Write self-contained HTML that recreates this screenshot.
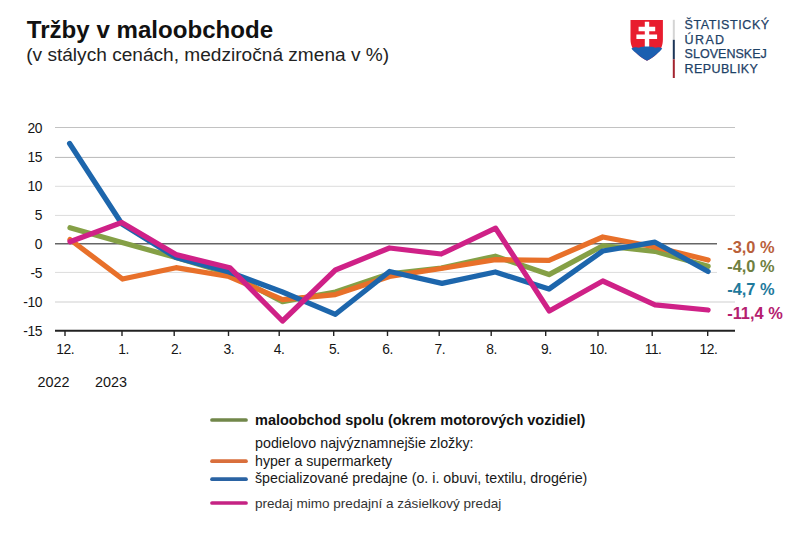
<!DOCTYPE html>
<html><head><meta charset="utf-8">
<style>
html,body{margin:0;padding:0;background:#fff;}
body{width:800px;height:553px;position:relative;overflow:hidden;font-family:"Liberation Sans",sans-serif;color:#1a1a1a;}
.t{position:absolute;white-space:nowrap;line-height:1;}
#title{left:26.8px;top:17.6px;font-size:24.1px;font-weight:bold;color:#111;}
#sub{left:26.2px;top:45px;font-size:19.1px;color:#222;}
.yl{font-size:13.8px;letter-spacing:-0.4px;width:30px;text-align:right;left:12px;color:#151515;}
.xl{font-size:13.8px;letter-spacing:-0.45px;color:#151515;top:343px;}
.vl{font-size:16.4px;font-weight:bold;left:727.2px;}
.lg{font-size:14.2px;left:255px;color:#181818;}
.logo{font-size:12.5px;color:#1d4166;left:684.6px;letter-spacing:0.9px;-webkit-text-stroke:0.25px #1d4166;}
svg{position:absolute;left:0;top:0;}
</style></head><body>
<svg width="800" height="553" viewBox="0 0 800 553">
<g stroke="#c9c9c9" stroke-width="1" fill="none">
<line x1="55" y1="127.5" x2="735" y2="127.5" stroke="#c2c2c2"/>
<line x1="55" y1="157.4" x2="735" y2="157.4" stroke="#b8b8b8"/>
<line x1="55" y1="186.3" x2="735" y2="186.3" stroke="#dcdcdc"/>
<line x1="55" y1="215.4" x2="735" y2="215.4" stroke="#dcdcdc"/>
<line x1="55" y1="272.4" x2="717" y2="272.4" stroke="#dcdcdc"/>
<line x1="55" y1="302" x2="735" y2="302" stroke="#cfcfcf"/>
</g>
<line x1="55" y1="243.8" x2="717" y2="243.8" stroke="#666" stroke-width="1.6"/>
<g fill="none" stroke-width="5.25" stroke-linecap="round" stroke-linejoin="round">
<polyline stroke="#85a046" points="70,227.7 122,242.5 176,257.5 229,273.6 282.5,301.7 335.4,292 389.5,273.8 441.2,268 495.3,256.2 549,274.6 602.8,245.7 655,251.3 708.1,266.2"/>
<polyline stroke="#e8702a" points="70,239.5 122.5,279 176,267.7 229,276.5 282.5,299.6 335.4,294.6 389.5,276.4 441.2,268.5 495.3,259.7 549,260.3 602.8,237 655,247 708.1,260"/>
<polyline stroke="#1d66ac" points="69.6,143.5 122,224 176,257.5 229,272 282.5,292 335.4,314.3 389.5,271.5 442,283.4 495.3,272 549,289 602.8,251 655,242.2 708.1,271.5"/>
<polyline stroke="#cf2187" points="70,241.7 121.7,222.5 176,254.6 229.8,267.7 282.5,321 335.4,270 389.5,248 441.2,254 495.6,228.2 549.3,311 602.8,281 655,304.8 708.1,310"/>
</g>
<g stroke="#222" stroke-width="1.4">
<line x1="55" y1="330.8" x2="735" y2="330.8" stroke-width="2"/>
<line x1="65" y1="331" x2="65" y2="336"/><line x1="122" y1="331" x2="122" y2="336"/><line x1="174.2" y1="331" x2="174.2" y2="336"/><line x1="228.5" y1="331" x2="228.5" y2="336"/><line x1="279.2" y1="331" x2="279.2" y2="336"/><line x1="333.7" y1="331" x2="333.7" y2="336"/><line x1="387.5" y1="331" x2="387.5" y2="336"/><line x1="439.2" y1="331" x2="439.2" y2="336"/><line x1="491.2" y1="331" x2="491.2" y2="336"/><line x1="545.7" y1="331" x2="545.7" y2="336"/><line x1="598" y1="331" x2="598" y2="336"/><line x1="652.2" y1="331" x2="652.2" y2="336"/><line x1="707.7" y1="331" x2="707.7" y2="336"/>
</g>
<!-- legend lines -->
<g fill="none" stroke-width="3.7" stroke-linecap="round">
<line x1="212" y1="420" x2="246" y2="420" stroke="#71874a"/>
<line x1="212" y1="461.2" x2="246" y2="461.2" stroke="#d96f3c"/>
<line x1="212" y1="479.2" x2="246" y2="479.2" stroke="#2a63a3"/>
<line x1="212" y1="503" x2="246" y2="503" stroke="#c52283"/>
</g>
<!-- logo -->
<g>
<path d="M630.5,20 H662.9 V39.5 C662.9,46 660.5,50.5 656.5,54.2 C653.5,57 650,59 647,60.7 C644,59 640.5,57 637.5,54.2 C633.5,50.5 630.5,46 630.5,39.5 Z" fill="#e81d2e"/>
<path d="M631.4,48.6 C633.5,47.2 636.5,46.8 639,47.8 C640.5,46.8 642.5,46.6 643.6,47 C644.6,45.6 645.8,44.9 647,44.9 C648.2,44.9 649.4,45.6 650.4,47 C651.5,46.6 653.5,46.8 655,47.8 C657.5,46.8 660.5,47.2 662.2,48.6 C660.8,51 658.8,52.2 656.5,54.2 C653.5,57 650,59 647,60.7 C644,59 640.5,57 637.5,54.2 C635.2,52.2 632.8,51 631.4,48.6 Z" fill="#1c5fb0"/>
<path d="M644.8,21.8 h4.4 v4.9 h6 v4.6 h-6 v3.1 h7.9 v4.5 h-7.9 v7.6 h-4.4 v-7.6 h-8.4 v-4.5 h8.4 v-3.1 h-6.2 v-4.6 h6.2 z" fill="#fff"/>
<rect x="672.8" y="19.8" width="2" height="20" fill="#d4d4d4"/>
<rect x="672.8" y="39.8" width="2" height="19.5" fill="#1d3557"/>
<rect x="672.8" y="59.3" width="2" height="18.7" fill="#a3242f"/>
</g>
</svg>
<div class="t" id="title">Tržby v maloobchode</div>
<div class="t" id="sub">(v stálych cenách, medziročná zmena v %)</div>

<div class="t yl" style="top:121.5px">20</div>
<div class="t yl" style="top:150.5px">15</div>
<div class="t yl" style="top:179.5px">10</div>
<div class="t yl" style="top:208.5px">5</div>
<div class="t yl" style="top:237.5px">0</div>
<div class="t yl" style="top:266.5px">-5</div>
<div class="t yl" style="top:295.5px">-10</div>
<div class="t yl" style="top:324.5px">-15</div>

<div class="t xl" style="left:56.3px">12.</div>
<div class="t xl" style="left:118.3px">1.</div>
<div class="t xl" style="left:171px">2.</div>
<div class="t xl" style="left:223.5px">3.</div>
<div class="t xl" style="left:273.8px">4.</div>
<div class="t xl" style="left:329px">5.</div>
<div class="t xl" style="left:382.2px">6.</div>
<div class="t xl" style="left:434.6px">7.</div>
<div class="t xl" style="left:486.2px">8.</div>
<div class="t xl" style="left:541px">9.</div>
<div class="t xl" style="left:589.3px">10.</div>
<div class="t xl" style="left:644.7px">11.</div>
<div class="t xl" style="left:699.5px">12.</div>
<div class="t xl" style="left:37.6px;top:375.4px;font-size:14.4px;letter-spacing:0">2022</div>
<div class="t xl" style="left:94.9px;top:374.6px;font-size:14.4px;letter-spacing:0">2023</div>

<div class="t vl" style="top:239px;color:#b9603a">-3,0 %</div>
<div class="t vl" style="top:258.2px;color:#6f7f3f">-4,0 %</div>
<div class="t vl" style="top:281.3px;color:#1f7a9c">-4,7 %</div>
<div class="t vl" style="top:304.8px;color:#b5206f">-11,4 %</div>

<div class="t lg" style="top:412.6px;font-weight:bold;font-size:14.5px;color:#111">maloobchod spolu (okrem motorových vozidiel)</div>
<div class="t lg" style="top:436px;font-size:14.3px">podielovo najvýznamnejšie zložky:</div>
<div class="t lg" style="top:453.5px">hyper a supermarkety</div>
<div class="t lg" style="top:471.3px;font-size:14.24px">špecializované predajne (o. i. obuvi, textilu, drogérie)</div>
<div class="t lg" style="top:496.5px;font-size:13.55px;color:#333">predaj mimo predajní a zásielkový predaj</div>

<div class="t logo" style="top:18.9px;letter-spacing:0.59px">ŠTATISTICKÝ</div>
<div class="t logo" style="top:33.7px;letter-spacing:1.37px">ÚRAD</div>
<div class="t logo" style="top:48.4px;letter-spacing:0.02px">SLOVENSKEJ</div>
<div class="t logo" style="top:63.1px;letter-spacing:0.39px">REPUBLIKY</div>
</body></html>
